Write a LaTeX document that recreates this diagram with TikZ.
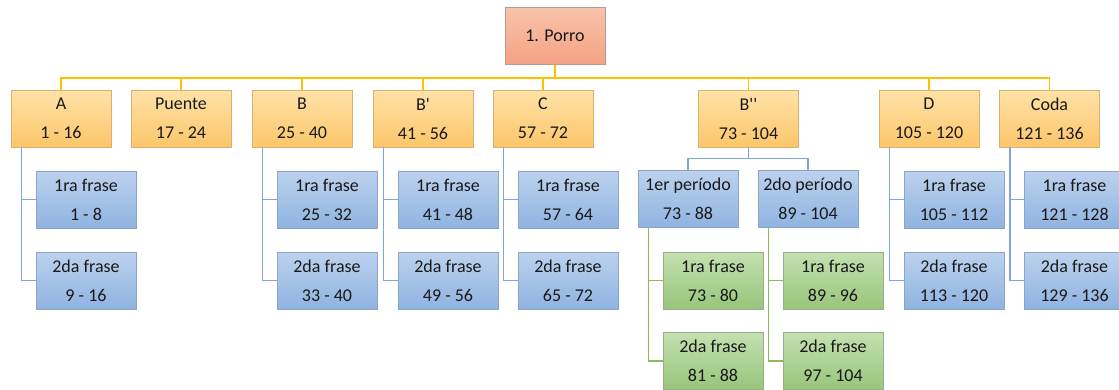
\documentclass[tikz,border=0pt]{standalone}
\usepackage{fontspec}
\setmainfont{Carlito}
\definecolor{orT}{HTML}{FFE2A8}
\definecolor{orB}{HTML}{FCC66A}
\definecolor{orD}{HTML}{D9B070}
\definecolor{rtT}{HTML}{F8C3AA}
\definecolor{rtB}{HTML}{F4A283}
\definecolor{rtD}{HTML}{B59A90}
\definecolor{blT}{HTML}{BCD2EE}
\definecolor{blB}{HTML}{8FB3E0}
\definecolor{blD}{HTML}{8EA4C4}
\definecolor{grT}{HTML}{C4E0B0}
\definecolor{grB}{HTML}{98C57B}
\definecolor{grD}{HTML}{98AE88}
\definecolor{lnY}{HTML}{FFC000}
\definecolor{lnB}{HTML}{7DA7DC}
\definecolor{lnG}{HTML}{8DBB5A}
\tikzset{
  box/.style={minimum width=100pt, minimum height=57pt, inner sep=0pt, align=center,
    font=\fontsize{18}{29}\selectfont, text=black!90, line width=0.8pt},
  rootbox/.style={box, draw=rtD, top color=rtT, bottom color=rtB},
  orbox/.style={box, draw=orD, top color=orT, bottom color=orB},
  blbox/.style={box, draw=blD, top color=blT, bottom color=blB},
  grbox/.style={box, draw=grD, top color=grT, bottom color=grB},
  ylink/.style={draw=lnY, line width=1.5pt},
  blink/.style={draw=lnB, line width=1.5pt},
  glink/.style={draw=lnG, line width=1.5pt}
}
\begin{document}
\begin{tikzpicture}[x=1pt,y=-1pt]
\useasboundingbox (0,0) rectangle (1119,389);
% root
\node[rootbox] (root) at (555,36) {1. Porro};
% level 1
\node[orbox] (A) at (61,118.5) {A\\1 - 16};
\node[orbox] (Pu) at (181,118.5) {Puente\\17 - 24};
\node[orbox] (B) at (302,118.5) {B\\25 - 40};
\node[orbox] (Bp) at (423,118.5) {B\textquotesingle\\41 - 56};
\node[orbox] (C) at (543,118.5) {C\\57 - 72};
\node[orbox] (Bpp) at (748.5,118.5) {B\textquotesingle\textquotesingle\\73 - 104};
\node[orbox] (D) at (929,118.5) {D\\105 - 120};
\node[orbox] (Co) at (1049.5,118.5) {Coda\\121 - 136};
% top connectors
\foreach \n in {A,Pu,B,Bp,C,Bpp,D,Co}
  \draw[ylink] (root.south) -- ++(0,13) -| (\n.north);
% blue children
\node[blbox] (A1) at (86,199.5) {1ra frase\\1 - 8};
\node[blbox] (A2) at (86,280.5) {2da frase\\9 - 16};
\node[blbox] (B1) at (327,199.5) {1ra frase\\25 - 32};
\node[blbox] (B2) at (327,280.5) {2da frase\\33 - 40};
\node[blbox] (Bp1) at (448,199.5) {1ra frase\\41 - 48};
\node[blbox] (Bp2) at (448,280.5) {2da frase\\49 - 56};
\node[blbox] (C1) at (568,199.5) {1ra frase\\57 - 64};
\node[blbox] (C2) at (568,280.5) {2da frase\\65 - 72};
\node[blbox] (D1) at (954,199.5) {1ra frase\\105 - 112};
\node[blbox] (D2) at (954,280.5) {2da frase\\113 - 120};
\node[blbox] (Co1) at (1074.5,199.5) {1ra frase\\121 - 128};
\node[blbox] (Co2) at (1074.5,280.5) {2da frase\\129 - 136};
\foreach \p/\a/\b in {A/A1/A2,B/B1/B2,Bp/Bp1/Bp2,C/C1/C2,D/D1/D2,Co/Co1/Co2}{
  \draw[blink] ([xshift=11pt]\p.south west) |- (\a.west);
  \draw[blink] ([xshift=11pt]\p.south west) |- (\b.west);
}
% periods
\node[blbox] (P1) at (688,199) {1er período\\73 - 88};
\node[blbox] (P2) at (808,199) {2do período\\89 - 104};
\draw[blink] (Bpp.south) -- ++(0,11) -| (P1.north);
\draw[blink] (Bpp.south) -- ++(0,11) -| (P2.north);
% green
\node[grbox] (G1) at (713,280.5) {1ra frase\\73 - 80};
\node[grbox] (G2) at (713,361) {2da frase\\81 - 88};
\node[grbox] (G3) at (833,280.5) {1ra frase\\89 - 96};
\node[grbox] (G4) at (833,361) {2da frase\\97 - 104};
\foreach \p/\a/\b in {P1/G1/G2,P2/G3/G4}{
  \draw[glink] ([xshift=11pt]\p.south west) |- (\a.west);
  \draw[glink] ([xshift=11pt]\p.south west) |- (\b.west);
}
\end{tikzpicture}
\end{document}
